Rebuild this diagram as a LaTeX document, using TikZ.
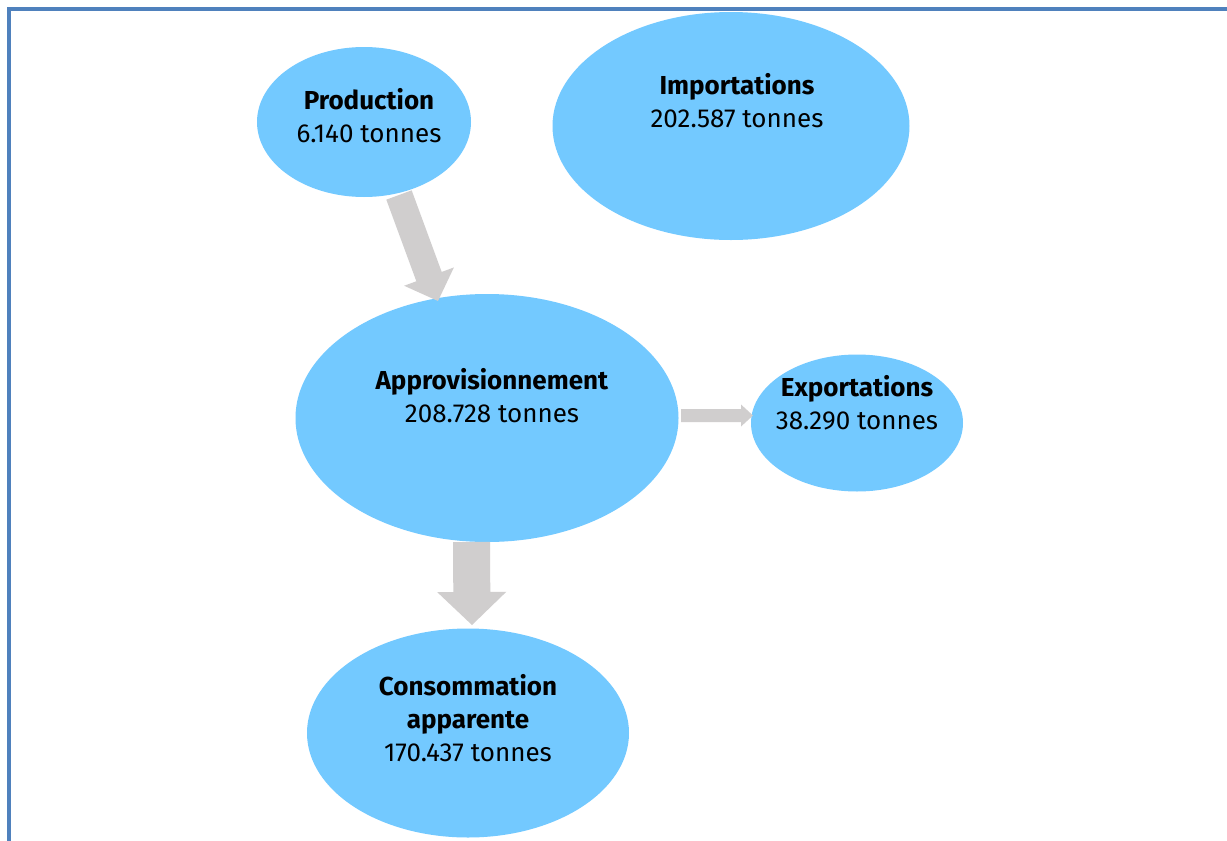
\documentclass[tikz,border=0pt]{standalone}
\usepackage{fontspec}
\setmainfont{Fira Sans}
\usetikzlibrary{shapes.geometric,calc}
\definecolor{bubble}{HTML}{73C9FF}
\definecolor{arrowgray}{HTML}{D0CECE}
\definecolor{frameblue}{HTML}{4F81BD}
\newcommand\blockarrow[5]{%
  \coordinate (bac) at ($(#2)!#5pt!(#1)$);
  \fill[arrowgray] ($(#1)!#3pt!90:(#2)$) -- ($(bac)!#3pt!90:(#2)$) -- ($(bac)!#4pt!90:(#2)$) -- (#2)
    -- ($(bac)!#4pt!-90:(#2)$) -- ($(bac)!#3pt!-90:(#2)$) -- ($(#1)!#3pt!-90:(#2)$) -- cycle;
}
\begin{document}
\begin{tikzpicture}[x=1pt,y=-1pt,
  bub/.style={ellipse, fill=bubble, draw=none, inner sep=0pt},
  txt/.style={align=center, font=\fontsize{26}{33}\selectfont, text=black, inner sep=0pt}]
\useasboundingbox (0,0) rectangle (1227,841);
\fill[white] (0,0) rectangle (1227,841);
% frame
\draw[frameblue, line width=3.5pt] (9,841) -- (9,9) -- (1227,9);
% bubbles
\node[bub, minimum width=214, minimum height=150] (prod) at (364,122) {};
\node[bub, minimum width=357, minimum height=228] (imp) at (731,126) {};
\node[bub, minimum width=383, minimum height=248] (appro) at (487,418) {};
\node[bub, minimum width=212, minimum height=137] (exp) at (857,423) {};
\node[bub, minimum width=322, minimum height=209] (cons) at (468,733) {};
% texts
\node[txt] (prodt) at (369,116) {\textbf{Production}\\6.140 tonnes};
\node[txt] (impt) at (737,101) {\textbf{Importations}\\202.587 tonnes};
\node[txt] (approt) at (492,396) {\textbf{Approvisionnement}\\208.728 tonnes};
\node[txt] (expt) at (857,403) {\textbf{Exportations}\\38.290 tonnes};
\node[txt] (const) at (468,718) {\textbf{Consommation}\\\textbf{apparente}\\170.437 tonnes};
% arrows
\coordinate (a1s) at (399,195);
\coordinate (a1e) at (438,301);
\blockarrow{a1s}{a1e}{13.5}{26.5}{26}
\coordinate (a2s) at (681,415.5);
\coordinate (a2e) at (753,415.5);
\blockarrow{a2s}{a2e}{6.5}{11}{12}
\coordinate (a3s) at (471.5,542);
\coordinate (a3e) at (472,625);
\blockarrow{a3s}{a3e}{18.5}{34.5}{33}
\end{tikzpicture}
\end{document}
